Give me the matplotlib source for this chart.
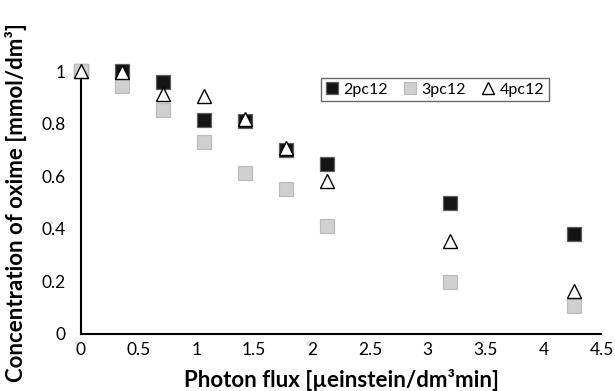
import matplotlib
matplotlib.use("Agg")
import matplotlib.pyplot as plt

flux = [0, 0.355, 0.71, 1.065, 1.42, 1.775, 2.13, 3.195, 4.26]
c_2pc12 = [1.0, 1.0, 0.959, 0.814, 0.811, 0.70, 0.645, 0.499, 0.379]
c_3pc12 = [1.0, 0.943, 0.852, 0.731, 0.613, 0.55, 0.412, 0.199, 0.106]
c_4pc12 = [1.0, 0.995, 0.911, 0.905, 0.816, 0.706, 0.582, 0.354, 0.165]
xticks = [0, 0.5, 1, 1.5, 2, 2.5, 3, 3.5, 4, 4.5]
yticks = [0, 0.2, 0.4, 0.6, 0.8, 1.0]

plt.rcParams['font.family'] = ['Lato', 'DejaVu Sans']

fig = plt.figure(figsize=(6.15, 3.91), dpi=100)
ax = fig.add_axes([0.131, 0.1458, 0.847, 0.6726])

ax.plot(flux, c_2pc12, linestyle='none', marker='s', markersize=9.5,
        markerfacecolor='#141414', markeredgecolor='#5e5e5e', markeredgewidth=0.9,
        label='2pc12', zorder=2, clip_on=False)
ax.plot(flux, c_3pc12, linestyle='none', marker='s', markersize=9.5,
        markerfacecolor='#d0d0d0', markeredgecolor='#bcbcbc', markeredgewidth=0.9,
        label='3pc12', zorder=3, clip_on=False)
ax.plot(flux, c_4pc12, linestyle='none', marker='^', markersize=9.5,
        markerfacecolor='white', markeredgecolor='black', markeredgewidth=1,
        label='4pc12', zorder=4, clip_on=False)

ax.set_xlim(0, 4.5)
ax.set_ylim(0, 1)
ax.set_xticks(xticks)
ax.set_xticklabels([f"{t:g}" for t in xticks])
ax.set_yticks(yticks)
ax.set_yticklabels([f"{t:g}" for t in yticks])
ax.tick_params(axis='y', length=0, labelsize=12.5, pad=11)
ax.tick_params(axis='x', length=0, labelsize=12.5, pad=6)
for s in ['top', 'right']:
    ax.spines[s].set_visible(False)
for s in ['left', 'bottom']:
    ax.spines[s].set_linewidth(1.5)
    ax.spines[s].set_color('black')
    ax.spines[s].set_zorder(1)

ax.set_xlabel('Photon flux [µeinstein/dm³min]', fontsize=16, fontweight='bold', labelpad=8)
ax.set_ylabel('Concentration of oxime [mmol/dm³]', fontsize=16, fontweight='bold', labelpad=10)

leg = ax.legend(loc='upper left', bbox_to_anchor=(0.462, 0.975), ncol=3, frameon=True,
                fancybox=False, edgecolor='#444444', fontsize=11.5, handlelength=0.7,
                handletextpad=0.4, columnspacing=1.0, borderpad=0.3, borderaxespad=0.0,
                markerscale=0.85)
leg.get_frame().set_linewidth(1)

fig.savefig('out.png', dpi=100)
